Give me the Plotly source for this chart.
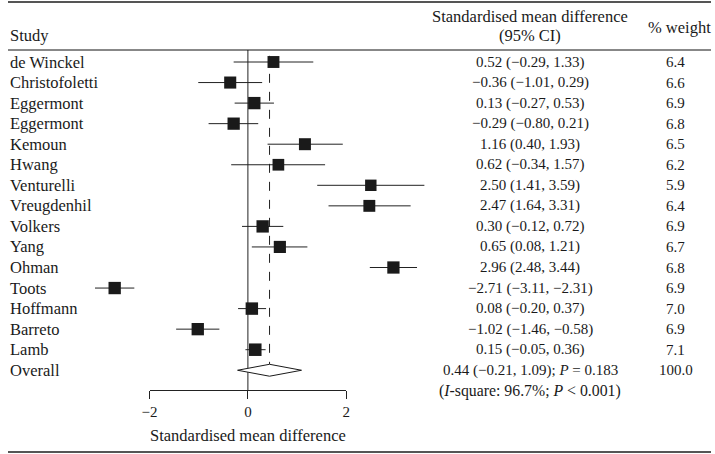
import plotly.graph_objects as go

# Study data
studies = ["de Winckel", "Christofoletti", "Eggermont", "Eggermont", "Kemoun", "Hwang",
           "Venturelli", "Vreugdenhil", "Volkers", "Yang", "Ohman", "Toots",
           "Hoffmann", "Barreto", "Lamb"]
smd = [0.52, -0.36, 0.13, -0.29, 1.16, 0.62, 2.50, 2.47, 0.30, 0.65, 2.96, -2.71, 0.08, -1.02, 0.15]
ci_low = [-0.29, -1.01, -0.27, -0.80, 0.40, -0.34, 1.41, 1.64, -0.12, 0.08, 2.48, -3.11, -0.20, -1.46, -0.05]
ci_high = [1.33, 0.29, 0.53, 0.21, 1.93, 1.57, 3.59, 3.31, 0.72, 1.21, 3.44, -2.31, 0.37, -0.58, 0.36]
weights = [6.4, 6.6, 6.9, 6.8, 6.5, 6.2, 5.9, 6.4, 6.9, 6.7, 6.8, 6.9, 7.0, 6.9, 7.1]

overall_est = 0.44
overall_low = -0.21
overall_high = 1.09
overall_p = 0.183
overall_weight = 100.0
i_square = 96.7

axis_ticks = [-2, 0, 2]

W, H = 715, 454
FONT = "Liberation Serif"
FS_NUM = 15      # numeric columns
FS_TXT = 16.5    # word labels (reference face is wider than Times)
INK = "#1a1a1a"
ROW0, ROWH = 62, 20.55     # pixel centre of first row, row spacing
X0PX, UNIT = 244, 50       # pixel of x=0, pixels per unit


def fmt(v):
    return f"{v:.2f}".replace("-", "\u2212")


def py(pix):
    # pixel y -> paper y
    return 1 - pix / H


def px(pix):
    return pix / W


rows = list(range(len(studies)))
overall_row = len(studies)

fig = go.Figure()

# study squares with CI whiskers
fig.add_trace(go.Scatter(
    x=smd, y=rows, mode="markers",
    marker=dict(symbol="square", color=INK, opacity=1,
                size=[4.7 * w ** 0.5 for w in weights], line=dict(width=0)),
    error_x=dict(type="data", symmetric=False,
                 array=[h - m for h, m in zip(ci_high, smd)],
                 arrayminus=[m - l for m, l in zip(smd, ci_low)],
                 color="#222222", thickness=1, width=0),
    hoverinfo="skip", showlegend=False,
))

# overall diamond
dh = 0.29
fig.add_trace(go.Scatter(
    x=[overall_low, overall_est, overall_high, overall_est, overall_low],
    y=[overall_row, overall_row - dh, overall_row, overall_row + dh, overall_row],
    mode="lines", fill="toself", fillcolor="white",
    line=dict(color=INK, width=1),
    hoverinfo="skip", showlegend=False,
))

# invisible trace to carry the bottom axis
fig.add_trace(go.Scatter(
    x=[axis_ticks[0], axis_ticks[-1]], y=[0, 0], xaxis="x2", yaxis="y",
    mode="markers", marker=dict(opacity=0), hoverinfo="skip", showlegend=False,
))

shapes = [
    # top / bottom borders and header rule
    dict(type="line", xref="paper", yref="paper", x0=0, x1=1, y0=py(2), y1=py(2),
         line=dict(color="#555555", width=2)),
    dict(type="line", xref="paper", yref="paper", x0=0, x1=1, y0=py(50), y1=py(50),
         line=dict(color="#111111", width=1)),
    dict(type="line", xref="paper", yref="paper", x0=0, x1=1, y0=py(452), y1=py(452),
         line=dict(color="#555555", width=2)),
    # no-effect line
    dict(type="line", xref="x", yref="paper", x0=0, x1=0, y0=py(50), y1=py(390),
         line=dict(color="#222222", width=1), layer="below"),
    # overall estimate dashed line
    dict(type="line", xref="x", yref="y", x0=overall_est, x1=overall_est,
         y0=-0.3, y1=overall_row - dh,
         line=dict(color="#222222", width=1, dash="dash"), layer="below"),
]

ann = []


def text(x, y, s, xanchor="center", yref="y", size=FS_TXT):
    ann.append(dict(x=x, y=y, xref="paper", yref=yref, text=s, showarrow=False,
                    xanchor=xanchor, yanchor="middle",
                    font=dict(family=FONT, size=size, color=INK)))


# headers
text(px(0), py(36), "Study", "left", "paper")
text(px(531), py(16), "Standardised mean difference", "center", "paper")
text(px(531), py(36), "(95% CI)", "center", "paper")
text(px(683), py(27), "% weight", "center", "paper")

for i, name in enumerate(studies):
    text(px(0), i, name, "left")
    text(px(531), i, f"{fmt(smd[i])} ({fmt(ci_low[i])}, {fmt(ci_high[i])})", size=FS_NUM)
    text(px(679), i, f"{weights[i]:.1f}", size=FS_NUM)

text(px(0), overall_row, "Overall", "left")
text(px(531), overall_row,
     f"{fmt(overall_est)} ({fmt(overall_low)}, {fmt(overall_high)}); <i>P</i> = {overall_p:.3f}",
     size=FS_NUM)
text(px(679), overall_row, f"{overall_weight:.1f}", size=FS_NUM)
text(px(531), overall_row + 1,
     f"(<i>I</i>-square: {i_square:.1f}%; <i>P</i> &lt; 0.001)", size=15.8)

fig.update_layout(
    width=W, height=H,
    margin=dict(l=0, r=0, t=0, b=0),
    paper_bgcolor="white", plot_bgcolor="rgba(0,0,0,0)",
    font=dict(family=FONT, size=FS_NUM, color=INK),
    xaxis=dict(range=[-X0PX / UNIT, (W - X0PX) / UNIT], visible=False, fixedrange=True),
    yaxis=dict(range=[(H - ROW0) / ROWH, -ROW0 / ROWH], visible=False, fixedrange=True),
    xaxis2=dict(
        domain=[px(X0PX + axis_ticks[0] * UNIT), px(X0PX + axis_ticks[-1] * UNIT)],
        range=[axis_ticks[0], axis_ticks[-1]],
        anchor="free", position=py(390),
        tickvals=axis_ticks, ticks="outside", ticklen=8, tickwidth=1, tickcolor="#222222",
        showline=True, linecolor="#222222", linewidth=1, showgrid=False, zeroline=False,
        tickfont=dict(family=FONT, size=FS_NUM, color=INK),
        title=dict(text="Standardised mean difference", standoff=10,
                   font=dict(family=FONT, size=FS_TXT, color=INK)),
        fixedrange=True,
    ),
    shapes=shapes, annotations=ann,
)

fig.write_html("out.html", config={"displayModeBar": False},
               post_script="document.body.style.margin='0';")
